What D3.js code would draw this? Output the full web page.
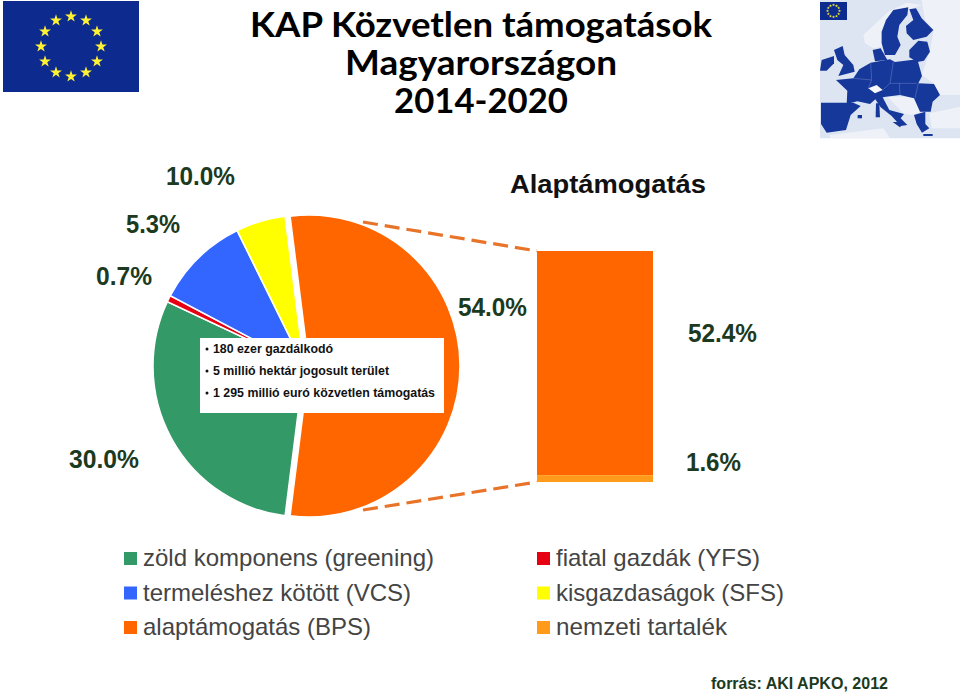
<!DOCTYPE html>
<html>
<head>
<meta charset="utf-8">
<script src="https://cdn.jsdelivr.net/npm/d3@7"></script>
<style>
  html, body { margin: 0; padding: 0; background: #fff; }
  svg { display: block; }
  text { font-family: "Liberation Sans", Arial, sans-serif; }
</style>
</head>
<body>
<div id="chart"></div>
<script>
// pie data, clockwise from the orange slice
const pieNames = ["alaptámogatás (BPS)", "zöld komponens (greening)", "fiatal gazdák (YFS)", "termeléshez kötött (VCS)", "kisgazdaságok (SFS)"];
const pieValues = [54.0, 30.0, 0.7, 10.0, 5.3];
const pieColors = ["#ff6600", "#339966", "#e60012", "#3366ff", "#ffff00"];

// the stacked bar that breaks up the 54%
const barNames = ["alaptámogatás (BPS)", "nemzeti tartalék"];
const barValues = [52.4, 1.6];
const barColors = ["#ff6600", "#ff9a1a"];

const legendLeft = ["zöld komponens (greening)", "termeléshez kötött (VCS)", "alaptámogatás (BPS)"];
const legendLeftColors = ["#339966", "#3366ff", "#ff6600"];
const legendRight = ["fiatal gazdák (YFS)", "kisgazdaságok (SFS)", "nemzeti tartalék"];
const legendRightColors = ["#e60012", "#ffff00", "#ff9a1a"];

const titleLines = ["KAP Közvetlen támogatások", "Magyarországon", "2014-2020"];
const boxLines = ["180 ezer gazdálkodó", "5 millió hektár jogosult terület", "1 295 millió euró közvetlen támogatás"];

const width = 960, height = 697;
const darkGreen = "#1b3a20";

const svg = d3.select("#chart").append("svg")
  .attr("width", width)
  .attr("height", height);

// the map in the reference is a soft little raster
const defs = svg.append("defs");
defs.append("filter").attr("id", "soft")
  .append("feGaussianBlur").attr("stdDeviation", 1.6);

// fitted text helper, the reference fonts are a bit wider or narrower than ours
function label(str, x, y, size, len, opts) {
  opts = opts || {};
  return svg.append("text")
    .text(str)
    .attr("x", x)
    .attr("y", y)
    .attr("font-size", size)
    .attr("font-weight", opts.weight || "bold")
    .attr("fill", opts.fill || darkGreen)
    .attr("textLength", len)
    .attr("lengthAdjust", "spacingAndGlyphs");
}

// Title
const titleX = [250, 345, 394], titleLen = [462, 272, 174], titleY = [37, 75, 113];
titleLines.forEach((t, i) => {
  label(t, titleX[i], titleY[i], 35, titleLen[i], { fill: "#000" })
    .style("font-family", "Lato, sans-serif");
});

// EU flags
function flag(x, y, w, h, ring, starSize) {
  svg.append("rect")
    .attr("x", x).attr("y", y)
    .attr("width", w).attr("height", h)
    .attr("fill", "#0d2a8e");
  const star = d3.symbol().type(d3.symbolStar).size(starSize);
  d3.range(12).forEach(i => {
    const a = i * Math.PI / 6;
    svg.append("path")
      .attr("d", star())
      .attr("fill", "#fff133")
      .attr("transform", "translate(" + (x + w / 2 + ring * Math.sin(a)) + "," + (y + h / 2 - ring * Math.cos(a)) + ")");
  });
}
flag(3, 1, 136, 91, 30, 44);

// Europe map (coordinates in a 450 wide box)
const mapG = svg.append("g").attr("transform", "translate(810,0) scale(0.3333)");
const mapBack = [[30, 0], [450, 0], [450, 415], [30, 415]];
const mapLight = [
  [[160, 105], [235, 35], [290, 8], [335, 15], [300, 28], [250, 30], [215, 95], [215, 140], [190, 145], [165, 130]],
  [[335, 0], [450, 0], [450, 285], [388, 285], [372, 250], [335, 225], [358, 160], [372, 90], [345, 60]],
  [[232, 290], [315, 290], [335, 335], [305, 345], [280, 340]],
  [[358, 340], [450, 320], [450, 385], [365, 385]],
  [[60, 405], [220, 385], [240, 415], [60, 415]]
];
const mapDark = [
  // sweden
  [[215, 95], [228, 60], [250, 30], [295, 22], [292, 45], [268, 75], [262, 110], [272, 135], [255, 165], [225, 165], [215, 130]],
  // finland
  [[298, 28], [318, 25], [335, 55], [352, 72], [370, 90], [350, 110], [310, 120], [290, 100], [288, 78], [310, 60]],
  // baltics
  [[298, 150], [325, 122], [352, 125], [360, 155], [342, 182], [322, 186], [298, 172]],
  // britain, ireland, denmark
  [[72, 150], [98, 138], [104, 165], [130, 195], [134, 215], [85, 228], [100, 195], [82, 180]],
  [[30, 212], [35, 180], [72, 168], [72, 190], [50, 212]],
  [[188, 150], [212, 145], [232, 180], [195, 184]],
  // continent, france to romania and down to italy
  [[78, 240], [130, 235], [148, 208], [182, 188], [240, 178], [255, 186], [322, 178], [336, 228], [325, 250], [372, 252], [390, 285], [368, 305], [362, 335], [330, 335], [312, 295], [270, 285], [228, 290], [218, 292], [238, 330], [282, 342], [272, 355], [292, 375], [272, 378], [245, 348], [212, 322], [196, 298], [180, 312], [142, 304], [110, 312], [112, 272]],
  // iberia
  [[33, 308], [130, 308], [152, 318], [122, 345], [108, 390], [50, 398], [33, 372]],
  // islands
  [[198, 310], [208, 310], [210, 352], [197, 352]],
  [[248, 366], [282, 366], [270, 382]],
  [[143, 345], [156, 345], [156, 355], [143, 355]],
  // greece and crete
  [[312, 345], [346, 335], [346, 372], [358, 385], [336, 398], [320, 372]],
  [[340, 402], [368, 402], [368, 408], [340, 408]]
];
// country borders that still show up as pale hairlines
const mapBorders = [
  [[182, 188], [185, 240], [175, 265]],
  [[250, 186], [240, 250], [218, 270]],
  [[240, 250], [320, 250]],
  [[268, 250], [270, 285]],
  [[130, 235], [185, 240]],
  [[325, 250], [315, 295]]
];
const mapLine = d3.line().curve(d3.curveLinearClosed);
mapG.append("path").attr("d", mapLine(mapBack)).attr("fill", "#dde4f2");
const mapSoft = mapG.append("g").attr("filter", "url(#soft)");
mapSoft.selectAll(".light").data(mapLight).enter().append("path")
  .attr("d", d => mapLine(d)).attr("fill", "#eef2f8");
mapSoft.selectAll(".dark").data(mapDark).enter().append("path")
  .attr("d", d => mapLine(d)).attr("fill", "#17379a");
mapSoft.selectAll(".border").data(mapBorders).enter().append("path")
  .attr("d", d => d3.line()(d))
  .attr("fill", "none").attr("stroke", "#6f86c6").attr("stroke-width", 1.5);
mapSoft.append("path")
  .attr("d", mapLine([[175, 265], [200, 255], [218, 270], [195, 280]]))
  .attr("fill", "#f8f9fc");
flag(820, 2, 27, 18, 6, 3);

// Pie
const radius = 151;
const pieCx = 304, pieCy = 366;
const orangeShift = 5;
const startAngle = -7.2 * Math.PI / 180;
const pie = d3.pie().sort(null).startAngle(startAngle).endAngle(startAngle + 2 * Math.PI);
const arc = d3.arc().innerRadius(0).outerRadius(radius);

svg.append("g")
  .attr("transform", "translate(" + pieCx + "," + pieCy + ")")
  .selectAll("path")
  .data(pie(pieValues))
  .enter()
  .append("path")
  .attr("d", arc)
  .attr("fill", (d, i) => pieColors[i])
  .attr("stroke", "#fff")
  .attr("stroke-width", 1.5)
  .attr("transform", (d, i) => i === 0 ? "translate(" + orangeShift + ",0)" : null);

// Bar of pie
const barX = d3.scaleBand().domain(["bar"]).range([537, 653]);
const barY = d3.scaleLinear().domain([0, d3.sum(barValues)]).range([251, 482]);
const barStack = d3.cumsum(barValues);
svg.selectAll(".bar")
  .data(barValues)
  .enter()
  .append("rect")
  .attr("x", barX("bar"))
  .attr("width", barX.bandwidth())
  .attr("y", (d, i) => barY(barStack[i] - d))
  .attr("height", d => barY(d) - barY(0))
  .attr("fill", (d, i) => barColors[i]);

// Dashed connectors
[[[363, 222], [537, 251]], [[363, 510], [537, 482]]].forEach(l => {
  svg.append("path")
    .attr("d", d3.line()(l))
    .attr("fill", "none")
    .attr("stroke", "#e8742a")
    .attr("stroke-width", 3.2)
    .attr("stroke-dasharray", "15 7");
});

// Percent labels, placed by hand like in the reference
const fmt = d3.format(".1f");
const pieLabelX = [458, 69, 96, 166, 126], pieLabelY = [316, 468, 285, 185, 233], pieLabelW = [69, 70, 56, 69, 54];
pieValues.forEach((v, i) => {
  label(fmt(v) + "%", pieLabelX[i], pieLabelY[i], 26, pieLabelW[i]);
});
const barLabelX = [688, 686], barLabelY = [342, 471], barLabelW = [69, 55];
barValues.forEach((v, i) => {
  label(fmt(v) + "%", barLabelX[i], barLabelY[i], 26, barLabelW[i]);
});

label("Alaptámogatás", 510, 193, 26, 196, { fill: "#111" });

// White info box over the pie
svg.append("rect")
  .attr("x", 200).attr("y", 338)
  .attr("width", 244).attr("height", 75)
  .attr("fill", "#fff");
const boxW = [120, 176, 222], boxY = [353, 375, 397];
boxLines.forEach((t, i) => {
  svg.append("circle").attr("cx", 207).attr("cy", boxY[i] - 4).attr("r", 1.5).attr("fill", "#111");
  label(t, 213, boxY[i], 13, boxW[i], { fill: "#111" });
});

// Legend
const rowY = d3.scalePoint().domain([0, 1, 2]).range([558, 627]);
function legendCol(names, colors, boxX, textX, widths) {
  names.forEach((n, i) => {
    svg.append("rect")
      .attr("x", boxX).attr("y", rowY(i) - 6)
      .attr("width", 13).attr("height", 13)
      .attr("fill", colors[i]);
    label(n, textX, rowY(i) + 8, 24, widths[i], { weight: "normal", fill: "#444" });
  });
}
legendCol(legendLeft, legendLeftColors, 124, 143, [291, 268, 228]);
legendCol(legendRight, legendRightColors, 537, 556, [204, 228, 171]);

// Source
label("forrás: AKI APKO, 2012", 711, 689, 16, 177, { fill: darkGreen });
</script>
</body>
</html>
